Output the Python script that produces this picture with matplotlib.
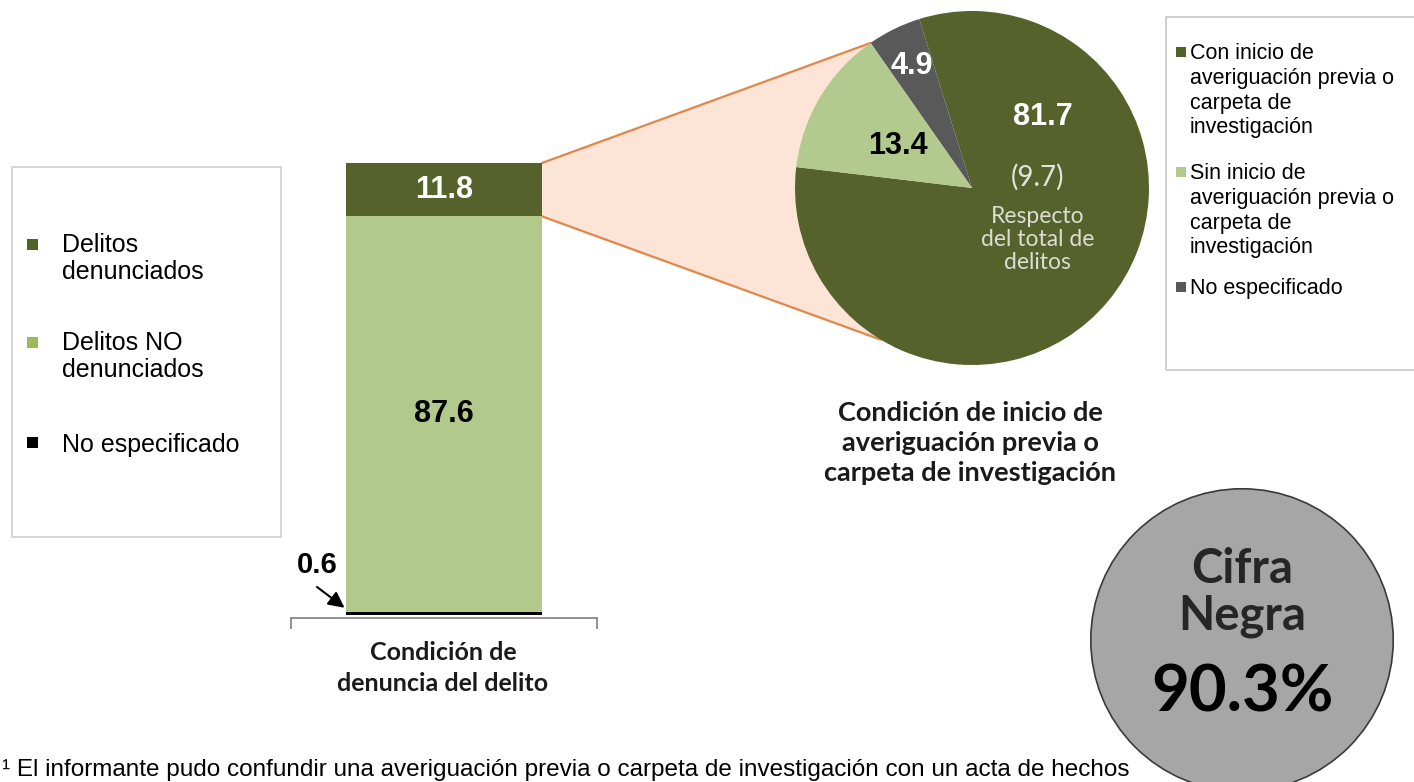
import numpy as np
import matplotlib
matplotlib.use("Agg")
import matplotlib.pyplot as plt
from matplotlib.patches import Rectangle, Circle, Polygon, ConnectionPatch

# ---------------- data ----------------
bar_labels = ["No especificado", "Delitos NO\ndenunciados", "Delitos\ndenunciados"]
bar_values = [0.6, 87.6, 11.8]
bar_colors = ["#000000", "#B2C98C", "#56622C"]
legend_bar_colors = ["#000000", "#9BBB59", "#4F6228"]

pie_labels = ["Con inicio de\naveriguación previa o\ncarpeta de\ninvestigación",
              "No especificado",
              "Sin inicio de\naveriguación previa o\ncarpeta de\ninvestigación"]
pie_values = [81.7, 4.9, 13.4]
pie_colors = ["#56622C", "#595959", "#B3CA8E"]
pie_share_total = 9.7
cifra_negra = 90.3

footnote = ("¹ El informante pudo confundir una averiguación previa o carpeta de "
            "investigación con un acta de hechos")

W, H = 1414, 782
fig = plt.figure(figsize=(W / 100, H / 100), dpi=100)
fig.patch.set_facecolor("white")


def px_axes(x0, y0, x1, y1):
    return fig.add_axes([x0 / W, 1 - y1 / H, (x1 - x0) / W, (y1 - y0) / H])


def fx(x):
    return x / W


def fy(y):
    return 1 - y / H


SANS = ["Liberation Sans", "DejaVu Sans"]
CAL = ["Lato", "DejaVu Sans"]


def draw_legend(labels, colors, x_mark, x_text, y_lines, size, msize, lsp):
    # one square marker + (multi-line) label per entry, marker beside the first line
    em = size * 100 / 72
    for lab, col, yc in zip(labels, colors, y_lines):
        fig.add_artist(Rectangle((fx(x_mark), fy(yc + msize / 2)), msize / W, msize / H,
                                 transform=fig.transFigure, fc=col, ec="none"))
        fig.text(fx(x_text), fy(yc - 0.42 * em), lab, ha="left", va="top",
                 fontsize=size, family=SANS, color="black", linespacing=lsp)


# ---------------- stacked bar ----------------
bax = px_axes(291, 163, 597, 615)
bax.patch.set_visible(False)
bar_w = 0.64
bottom = 0
for v, c in zip(bar_values, bar_colors):
    bax.bar(0, v, bottom=bottom, width=bar_w, color=c, edgecolor="none")
    bottom += v
bax.set_xlim(-0.5, 0.5)
bax.set_ylim(0, 100)
for s in ["top", "right", "left"]:
    bax.spines[s].set_visible(False)
bax.spines["bottom"].set_color("#7F7F7F")
bax.spines["bottom"].set_linewidth(1.2)
bax.spines["bottom"].set_position(("outward", 2))
bax.set_yticks([])
bax.set_xticks([-0.5, 0.5])
bax.set_xticklabels([])
bax.tick_params(axis="x", direction="out", length=8, width=1.2, color="#7F7F7F")

bax.text(0, bar_values[0] + bar_values[1] + bar_values[2] / 2, f"{bar_values[2]:.1f}",
         ha="center", va="center", color="white", fontsize=22, fontweight="bold",
         family=SANS)
bax.text(0, bar_values[0] + bar_values[1] / 2, f"{bar_values[1]:.1f}",
         ha="center", va="center", color="black", fontsize=22, fontweight="bold",
         family=SANS)
bax.text(-0.48, 11.0, f"{bar_values[0]:.1f}", ha="left", va="center", fontsize=21,
         fontweight="bold", family=SANS)
bax.annotate("", xy=(-bar_w / 2 - 0.005, bar_values[0] + 1.0), xytext=(-0.415, 6.2),
             arrowprops=dict(arrowstyle="-|>", color="black", lw=1.5,
                             mutation_scale=24, shrinkA=0, shrinkB=0))

fig.text(fx(443), fy(668), "Condición de\ndenuncia del delito", ha="center", va="center",
         fontsize=18, fontweight="bold", family=CAL, color="#1A1A1A",
         linespacing=1.4)

# left legend
fig.add_artist(Rectangle((fx(12), fy(537)), fx(281) - fx(12), fy(167) - fy(537),
                         transform=fig.transFigure, fill=False, ec="#D0D0D0", lw=1.2))
draw_legend([bar_labels[2], bar_labels[1], bar_labels[0]],
            [legend_bar_colors[2], legend_bar_colors[1], legend_bar_colors[0]],
            27, 62, [244, 342, 443], 18, 11, 1.12)

# ---------------- pie ----------------
pax = px_axes(795, 11, 1149, 365)
pax.patch.set_visible(False)
start = 173.2
wedges, _ = pax.pie(pie_values, colors=pie_colors, startangle=start, counterclock=True,
                    radius=1.0, wedgeprops=dict(linewidth=0))
pax.set_xlim(-1, 1)
pax.set_ylim(-1, 1)
pax.set_aspect("equal")
pax.axis("off")

pax.text(0.40, 0.40, f"{pie_values[0]:.1f}", ha="center", va="center", color="white",
         fontsize=22, fontweight="bold", family=SANS)
pax.text(0.37, 0.06, f"({pie_share_total:.1f})", ha="center", va="center",
         color="#E4E4DC", fontsize=20, family=CAL)
pax.text(0.37, -0.29, "Respecto\ndel total de\ndelitos", ha="center", va="center",
         color="#DCDCD2", fontsize=16.5, family=CAL, linespacing=1.1)
pax.text(-0.42, 0.24, f"{pie_values[2]:.1f}", ha="center", va="center", color="black",
         fontsize=22, fontweight="bold", family=SANS)
pax.text(-0.34, 0.69, f"{pie_values[1]:.1f}", ha="center", va="center", color="white",
         fontsize=22, fontweight="bold", family=SANS)

fig.text(fx(970), fy(443), "Condición de inicio de\naveriguación previa o\ncarpeta de investigación",
         ha="center", va="center", fontsize=19.5, fontweight="bold", family=CAL,
         color="#1A1A1A", linespacing=1.3)

# right legend
fig.add_artist(Rectangle((fx(1166), fy(370)), fx(1420) - fx(1166), fy(17) - fy(370),
                         transform=fig.transFigure, fill=False, ec="#C8C8C8", lw=1.2))
order = [0, 2, 1]
draw_legend([pie_labels[i] for i in order], ["#4F6228", "#B3CA8E", "#595959"],
            1176, 1190, [52, 172, 287], 15.5, 10, 1.24)

# connectors bar -> pie
ang_top = np.deg2rad(start + 360 * (pie_values[0] + pie_values[1]) / 100)
ang_bot = np.deg2rad(239)
pA_top = (bar_w / 2, 100)
pA_bot = (bar_w / 2, bar_values[0] + bar_values[1])
pB_top = (np.cos(ang_top), np.sin(ang_top))
pB_bot = (np.cos(ang_bot), np.sin(ang_bot))

to_fig = fig.transFigure.inverted()
pts = [bax.transData.transform(pA_top), pax.transData.transform(pB_top),
       pax.transData.transform((0, 0)), pax.transData.transform(pB_bot),
       bax.transData.transform(pA_bot)]
pts = to_fig.transform(np.array(pts))
fig.add_artist(Polygon(pts, closed=True, transform=fig.transFigure, fc="#FCE4D6",
                       ec="none", zorder=-2))
for a, b in [(pA_top, pB_top), (pA_bot, pB_bot)]:
    cp = ConnectionPatch(xyA=a, coordsA=bax.transData, xyB=b, coordsB=pax.transData,
                         color="#E2864A", lw=1.6, zorder=-1)
    fig.add_artist(cp)

# ---------------- cifra negra ----------------
cax = px_axes(1090, 488, 1394, 792)
cax.set_xlim(-1, 1)
cax.set_ylim(-1, 1)
cax.set_aspect("equal")
cax.axis("off")
cax.add_patch(Circle((0, 0), 0.995, fc="#A6A6A6", ec="#3A3A3A", lw=1.2))
cax.text(0, 0.47, "Cifra", ha="center", va="center", fontsize=34, fontweight="bold",
         family=CAL, color="#262626")
cax.text(0, 0.155, "Negra", ha="center", va="center", fontsize=34, fontweight="bold",
         family=CAL, color="#262626")
cax.text(0, -0.35, f"{cifra_negra:.1f}%", ha="center", va="center", fontsize=47,
         fontweight="bold", family=CAL, color="black")

# footnote along the bottom edge
fig.text(fx(2), fy(776), footnote, ha="left", va="baseline", fontsize=17.5,
         family=SANS, color="black")

fig.savefig("out.png", dpi=100, facecolor="white")
